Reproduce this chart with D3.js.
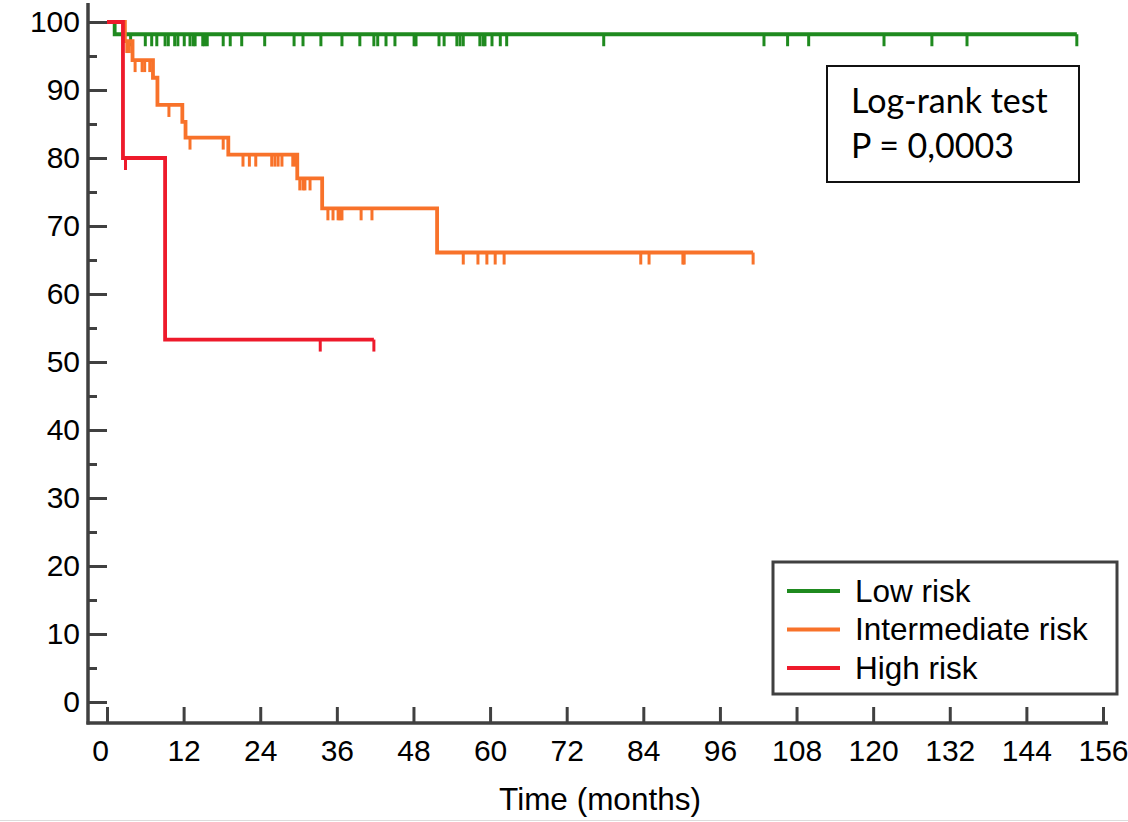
<!DOCTYPE html>
<html>
<head>
<meta charset="utf-8">
<script src="https://cdn.jsdelivr.net/npm/d3@7"></script>
<style>
  body { margin: 0; background: #fff; }
  svg { display: block; }
</style>
</head>
<body>
<svg id="chart" width="1128" height="822"></svg>
<script>
// Kaplan-Meier curves (time in months, survival in %)
const groups = ["Low risk", "Intermediate risk", "High risk"];
const colors = ["#1f8a1f", "#f8722a", "#ee1a2b"];

const lowStepTimes = [0, 1.2];
const lowStepSurv = [100, 98.2];
const lowCensor = [3.7, 6.0, 7.0, 7.8, 9.1, 9.6, 10.6, 11.1, 12.1, 13.0, 13.5, 13.8, 15.0, 15.3, 15.7,
  18.2, 19.3, 21.1, 24.7, 29.3, 30.7, 33.5, 36.8, 39.6, 41.8, 42.4, 43.7, 45.1, 48.1, 48.4,
  52.0, 52.8, 54.8, 55.3, 55.8, 58.4, 58.9, 59.2, 60.3, 61.6, 62.6, 77.8, 102.9, 106.6,
  109.9, 121.7, 129.2, 134.7, 151.9];

const midStepTimes = [0, 2.8, 4.0, 7.2, 7.9, 11.8, 12.3, 19.0, 29.8, 33.7, 51.7];
const midStepSurv = [100, 97.2, 94.4, 91.8, 87.8, 85.3, 83.0, 80.5, 77.0, 72.6, 66.1];
const midCensor = [3.1, 3.5, 4.4, 5.5, 5.9, 6.7, 9.7, 13.0, 18.2, 21.3, 22.3, 23.3, 25.8, 26.3,
  26.8, 27.4, 29.1, 29.5, 30.2, 30.7, 31.0, 31.8, 34.6, 35.4, 36.2, 36.5, 36.8, 39.8, 41.5,
  55.8, 58.1, 59.5, 60.8, 62.2, 83.6, 84.9, 90.2, 90.4, 101.2];

const highStepTimes = [0, 2.5, 9.1];
const highStepSurv = [100, 80, 53.3];
const highCensor = [2.9, 33.4, 41.8];

const xTicks = d3.range(0, 157, 12);
const yTicks = d3.range(0, 101, 10);
const yMinorTicks = d3.range(5, 100, 10);

const series = [
  { times: lowStepTimes, surv: lowStepSurv, censor: lowCensor },
  { times: midStepTimes, surv: midStepSurv, censor: midCensor },
  { times: highStepTimes, surv: highStepSurv, censor: highCensor }
];

const svg = d3.select("#chart");
const axisColor = "#404040";
const font = "'Liberation Sans', Arial, sans-serif";

const x = d3.scaleLinear().domain([0, 156]).range([107, 1103]);
const y = d3.scaleLinear().domain([0, 100]).range([702, 22]);

const axisX0 = 88, axisY0 = 723;

// y axis
let yAxis = svg.append("g")
  .attr("transform", "translate(" + axisX0 + ",0)")
  .call(d3.axisLeft(y).tickValues(yTicks).tickSize(-19).tickPadding(8).tickSizeOuter(0));
yAxis.select(".domain").remove();
yAxis.selectAll("line").attr("stroke", axisColor).attr("stroke-width", 3);
yAxis.selectAll("text").attr("font-family", font).attr("font-size", 30).attr("fill", "#000");

let yMinor = svg.append("g")
  .attr("transform", "translate(" + axisX0 + ",0)")
  .call(d3.axisLeft(y).tickValues(yMinorTicks).tickSize(-9).tickFormat(""));
yMinor.select(".domain").remove();
yMinor.selectAll("line").attr("stroke", axisColor).attr("stroke-width", 3);

// x axis
let xAxis = svg.append("g")
  .attr("transform", "translate(0," + axisY0 + ")")
  .call(d3.axisBottom(x).tickValues(xTicks).tickSize(-16).tickPadding(17).tickSizeOuter(0));
xAxis.select(".domain").remove();
xAxis.selectAll("line").attr("stroke", axisColor).attr("stroke-width", 3);
xAxis.selectAll("text").attr("font-family", font).attr("font-size", 30).attr("fill", "#000")
  .attr("dx", d => d === 0 ? -7 : 0);

// axis lines
svg.append("line").attr("x1", axisX0).attr("x2", axisX0).attr("y1", 3).attr("y2", axisY0 + 1.5)
  .attr("stroke", axisColor).attr("stroke-width", 3.5);
svg.append("line").attr("x1", axisX0 - 1.5).attr("x2", 1108).attr("y1", axisY0).attr("y2", axisY0)
  .attr("stroke", axisColor).attr("stroke-width", 3.5);

svg.append("text")
  .attr("x", 600).attr("y", 810)
  .attr("text-anchor", "middle")
  .attr("font-family", font).attr("font-size", 31.5)
  .text("Time (months)");

// curves
function survAt(s, t) {
  let v = s.surv[0];
  for (let i = 0; i < s.times.length; i++) if (s.times[i] <= t) v = s.surv[i];
  return v;
}

const line = d3.line().x(d => x(d[0])).y(d => y(d[1])).curve(d3.curveStepAfter);

series.forEach(function(s, i) {
  let end = s.censor[s.censor.length - 1];
  let pts = s.times.map((t, j) => [t, s.surv[j]]);
  pts.push([end, s.surv[s.surv.length - 1]]);

  svg.append("path")
    .attr("d", line(pts))
    .attr("fill", "none")
    .attr("stroke", colors[i])
    .attr("stroke-width", 3.8)
    .attr("stroke-linejoin", "miter");

  svg.append("g").selectAll("line")
    .data(s.censor)
    .enter()
    .append("line")
    .attr("x1", d => x(d)).attr("x2", d => x(d))
    .attr("y1", d => y(survAt(s, d)))
    .attr("y2", d => y(survAt(s, d)) + 12)
    .attr("stroke", colors[i])
    .attr("stroke-width", 3);
});

// log-rank box
svg.append("rect")
  .attr("x", 827).attr("y", 66).attr("width", 252).attr("height", 116)
  .attr("fill", "#fff").attr("stroke", "#111").attr("stroke-width", 2);
svg.append("text").attr("x", 851).attr("y", 113)
  .attr("font-family", "Lato, 'Open Sans', sans-serif").attr("font-size", 34)
  .text("Log-rank test");
svg.append("text").attr("x", 851).attr("y", 158)
  .attr("font-family", "Lato, 'Open Sans', sans-serif").attr("font-size", 34)
  .text("P = 0,0003");

// legend
svg.append("rect")
  .attr("x", 773).attr("y", 562).attr("width", 344).attr("height", 132)
  .attr("fill", "#fff").attr("stroke", axisColor).attr("stroke-width", 3);

let leg = svg.append("g").selectAll("g")
  .data(groups)
  .enter()
  .append("g")
  .attr("transform", (d, i) => "translate(0," + (591 + i * 38.5) + ")");
leg.append("line")
  .attr("x1", 787).attr("x2", 840).attr("y1", 0).attr("y2", 0)
  .attr("stroke", (d, i) => colors[i]).attr("stroke-width", 3.8);
leg.append("text")
  .attr("x", 855).attr("y", 10.5)
  .attr("font-family", font).attr("font-size", 31.5)
  .text(d => d);

// faint bottom rule of the original image
svg.append("line").attr("x1", 0).attr("x2", 1128).attr("y1", 820.5).attr("y2", 820.5)
  .attr("stroke", "#dcdcdc").attr("stroke-width", 1);
</script>
</body>
</html>
